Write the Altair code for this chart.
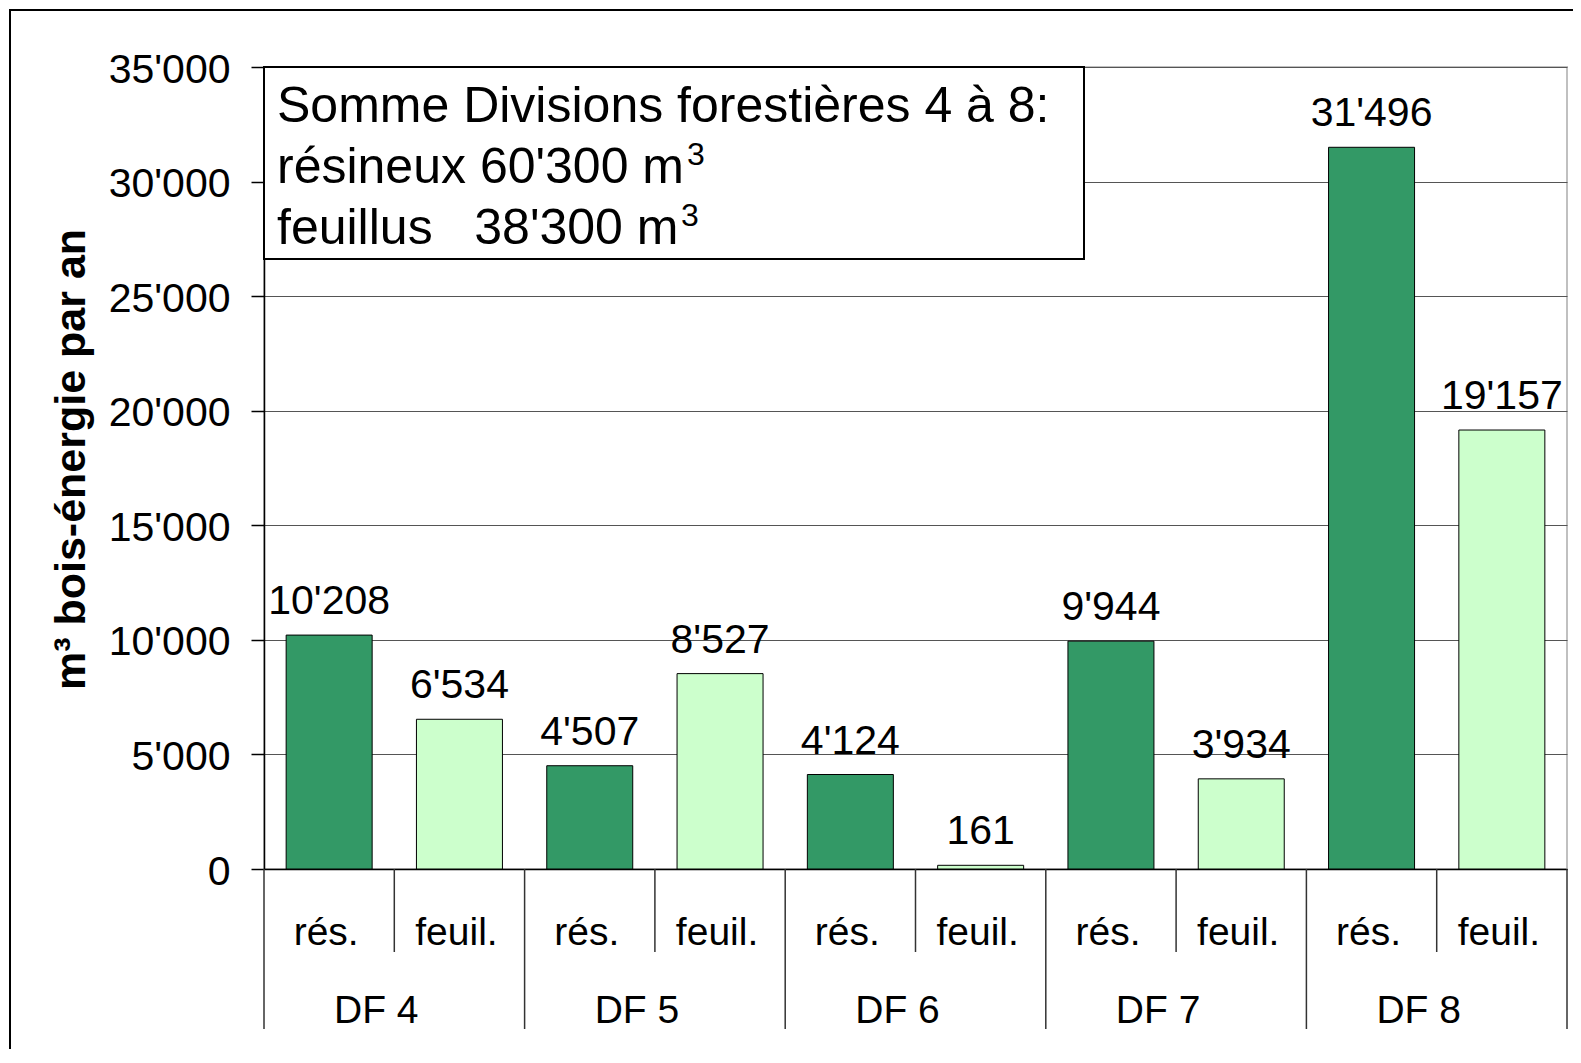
import altair as alt
import pandas as pd

# ---- data ----
groups = ["DF 4", "DF 4", "DF 5", "DF 5", "DF 6", "DF 6", "DF 7", "DF 7", "DF 8", "DF 8"]
types = ["rés.", "feuil."] * 5
values = [10208, 6534, 4507, 8527, 4124, 161, 9944, 3934, 31496, 19157]
y_ticks = [0, 5000, 10000, 15000, 20000, 25000, 30000, 35000]
type_domain = ["rés.", "feuil."]
type_colors = ["#339966", "#CCFFCC"]
box_lines = [
    "Somme Divisions forestières 4 à 8:",
    "résineux 60'300 m",
    "feuillus\u00a0\u00a0\u00a038'300 m",
]
superscript = "3"
y_title = "m³ bois-énergie par an"

keys = [f"{g}|{t}" for g, t in zip(groups, types)]
df = pd.DataFrame({"key": keys, "group": groups, "type": types, "value": values})
one = pd.DataFrame({"a": [0]})

W, H = 1303, 802
FONT = "Liberation Sans"
fmt = "replace(format(datum.value, ','), ',', \"'\")"

xscale = alt.Scale(paddingInner=0, paddingOuter=0)


def xenc(band=0.5, axis=False):
    if axis:
        return alt.X("key:N", sort=keys, scale=xscale,
                     axis=alt.Axis(labels=False, ticks=False, domain=True,
                                   domainColor="black", domainWidth=1.5,
                                   grid=False, title=None))
    return alt.X("key:N", sort=keys, scale=xscale, bandPosition=band, title=None)


base = alt.Chart(df)

frame = alt.Chart(one).mark_rect(fill="transparent", stroke="black", strokeWidth=2).encode(
    x=alt.value(-254), x2=alt.value(W + 30), y=alt.value(-57), y2=alt.value(H + 220)
)

bars = base.mark_bar(width={"band": 0.66}, stroke="black", strokeWidth=1).encode(
    x=xenc(axis=True),
    y=alt.Y("value:Q", scale=alt.Scale(domain=[0, 35000], nice=False),
            axis=alt.Axis(values=y_ticks, labelExpr=fmt, title=y_title,
                          labelFontSize=41, labelColor="black", labelPadding=21,
                          labelFont=FONT, labelOffset=3,
                          tickSize=13, tickColor="black", tickWidth=1.5,
                          domainColor="black", domainWidth=1.5,
                          grid=True, gridColor="#555555", gridWidth=1,
                          titleFont=FONT, titleFontSize=43, titleFontWeight="bold",
                          titleColor="black", titleAngle=270, titleAlign="center",
                          titleBaseline="alphabetic", titleX=-180, titleY=392)),
    color=alt.Color("type:N", scale=alt.Scale(domain=type_domain, range=type_colors), legend=None),
)

value_labels = base.transform_calculate(label=fmt).mark_text(
    fontSize=41, font=FONT, color="black", baseline="alphabetic", align="center", dy=-21
).encode(x=xenc(), y=alt.Y("value:Q", title=y_title), text="label:N")

cat_labels = base.mark_text(
    fontSize=39, font=FONT, color="black", baseline="alphabetic", align="center", dx=-3
).encode(x=xenc(), y=alt.value(878), text="type:N")

group_labels = base.transform_filter("datum.type == 'feuil.'").mark_text(
    fontSize=39, font=FONT, color="black", baseline="alphabetic", align="center", dx=-18
).encode(x=xenc(band=0), y=alt.value(956), text="group:N")

long_rules = base.transform_filter("datum.type == 'rés.'").mark_rule(
    color="#333333", strokeWidth=1.5
).encode(x=xenc(band=0), y=alt.value(H), y2=alt.value(962))

end_rule = base.transform_filter(f"datum.key == '{keys[-1]}'").mark_rule(
    color="#333333", strokeWidth=1.5
).encode(x=xenc(band=1), y=alt.value(H), y2=alt.value(962))

short_rules = base.transform_filter("datum.type == 'feuil.'").mark_rule(
    color="#333333", strokeWidth=1.5
).encode(x=xenc(band=0), y=alt.value(H), y2=alt.value(885))

box = alt.Chart(one).mark_rect(fill="white", stroke="black", strokeWidth=2).encode(
    x=alt.value(0), x2=alt.value(820), y=alt.value(0), y2=alt.value(192)
)

box_text = alt.Chart(one).mark_text(
    text=box_lines, fontSize=50, font=FONT, color="black", align="left",
    baseline="alphabetic", lineHeight=61
).encode(x=alt.value(13), y=alt.value(55))

sup2 = alt.Chart(one).mark_text(
    text=superscript, fontSize=32, font=FONT, color="black", align="left",
    baseline="alphabetic"
).encode(x=alt.value(423), y=alt.value(98))

sup3 = alt.Chart(one).mark_text(
    text=superscript, fontSize=32, font=FONT, color="black", align="left",
    baseline="alphabetic"
).encode(x=alt.value(417), y=alt.value(159))

chart = alt.layer(
    frame, bars, value_labels, cat_labels, group_labels,
    long_rules, end_rule, short_rules, box, box_text, sup2, sup3
).properties(
    width=W, height=H,
    autosize=alt.AutoSizeParams(type="none"),
    padding={"left": 256, "top": 59, "right": 6, "bottom": 180},
).configure(font=FONT).configure_view(stroke="#c0c0c0", strokeWidth=2)

chart.save("out.html", embed_options={"renderer": "svg", "actions": False})
